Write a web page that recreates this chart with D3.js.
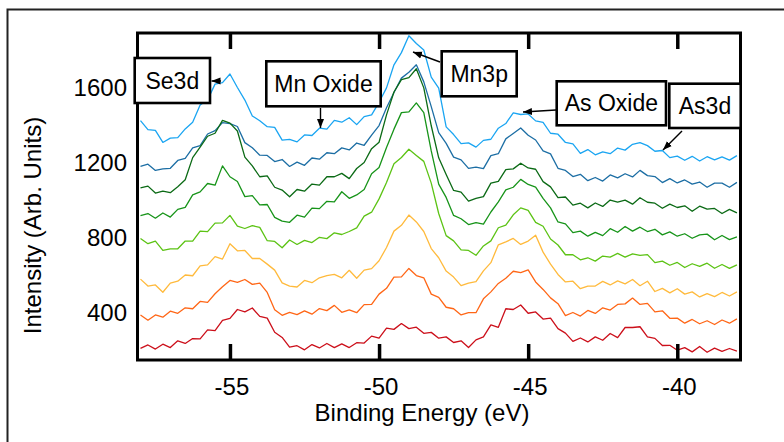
<!DOCTYPE html>
<html><head><meta charset="utf-8">
<script src="https://cdn.jsdelivr.net/npm/d3@7/dist/d3.min.js"></script>
<style>
html,body{margin:0;padding:0;background:#fff;}
svg{display:block;}
text{font-family:"Liberation Sans",Arial,Helvetica,sans-serif;fill:#000;}
</style></head><body>
<svg id="chart" width="784" height="442"></svg>
<script>
// ---- data ----
const energyStart = -58, energyStep = 0.25;
const xTickValues = [-55, -50, -45, -40];
const yTickValues = [400, 800, 1200, 1600];
const xTitle = "Binding Energy (eV)";
const yTitle = "Intensity (Arb. Units)";
const annotationTexts = ["Se3d", "Mn Oxide", "Mn3p", "As Oxide", "As3d"];
const seriesColors = ["#1aa5f2", "#1c6ea4", "#0b6a15", "#179419", "#5cc314", "#ffba3c", "#ff6616", "#cc0f1a"];

const spectrum1 = [1423,1375,1371,1307,1330,1333,1379,1415,1507,1534,
 1618,1626,1672,1600,1533,1448,1423,1391,1387,1319,
 1323,1310,1347,1344,1383,1378,1425,1415,1439,1402,
 1445,1454,1521,1598,1721,1786,1876,1835,1800,1655,
 1597,1390,1349,1301,1305,1282,1318,1324,1383,1408,
 1465,1456,1459,1422,1414,1356,1351,1307,1299,1249,
 1269,1241,1257,1247,1277,1266,1297,1306,1290,1260,
 1264,1226,1234,1212,1233,1208,1231,1214,1230,1213,
 1237];
const spectrum2 = [1180,1191,1158,1166,1169,1211,1222,1278,1290,1352,
 1370,1413,1407,1392,1306,1279,1239,1238,1205,1216,
 1179,1202,1185,1224,1218,1252,1247,1278,1267,1304,
 1292,1346,1397,1492,1573,1650,1681,1721,1630,1498,
 1359,1302,1229,1214,1169,1175,1167,1237,1247,1326,
 1355,1384,1345,1320,1262,1246,1169,1158,1125,1137,
 1103,1120,1101,1134,1118,1140,1123,1158,1130,1125,
 1093,1114,1091,1107,1085,1096,1068,1090,1090,1068,
 1094];
const spectrum3 = [1065,1074,1037,1047,1039,1071,1108,1226,1282,1340,
 1356,1425,1410,1368,1229,1182,1124,1129,1068,1053,
 1017,1056,1047,1085,1079,1124,1124,1142,1114,1168,
 1200,1274,1308,1454,1576,1642,1653,1700,1598,1396,
 1225,1136,1051,1042,994,1009,1018,1090,1099,1162,
 1166,1196,1171,1164,1098,1070,1013,1016,973,983,
 958,984,966,1000,989,999,978,1012,988,983,
 956,978,960,969,940,967,951,955,928,950,
 931];
const spectrum4 = [917,928,903,931,909,950,961,1027,1043,1088,
 1079,1182,1124,1099,1018,1023,974,976,907,887,
 881,919,909,957,954,993,990,1044,1009,1027,
 1056,1140,1173,1280,1378,1466,1470,1518,1466,1262,
 1085,1014,918,900,869,879,871,936,990,1054,
 1068,1110,1083,1069,1009,958,883,873,826,834,
 807,827,810,847,828,859,834,855,832,844,
 814,830,807,820,796,814,818,788,811,789,
 803];
const spectrum5 = [795,767,781,731,739,740,781,781,834,831,
 877,878,918,861,848,863,854,783,779,745,
 787,763,785,773,801,794,825,816,832,851,
 914,935,1006,1093,1193,1227,1271,1238,1206,1090,
 928,810,782,734,731,705,755,782,852,866,
 921,958,945,881,860,792,760,708,708,681,
 692,674,701,695,715,695,713,705,709,666,
 674,652,667,640,660,646,663,636,656,635,
 654];
const spectrum6 = [578,541,547,508,557,567,600,596,649,654,
 698,685,767,729,731,688,688,658,626,558,
 541,536,571,559,585,597,603,585,625,583,
 626,634,676,747,834,865,920,883,832,741,
 692,621,589,543,557,565,622,666,761,777,
 795,763,781,812,722,658,603,563,567,527,
 541,541,566,547,569,553,576,543,567,512,
 529,505,527,498,510,483,501,485,507,488,
 510];
const spectrum7 = [387,359,387,375,407,396,425,420,459,454,
 500,537,571,561,576,550,557,507,415,385,
 401,389,409,391,421,410,438,401,414,399,
 442,443,498,529,589,590,635,597,585,498,
 481,428,420,387,399,399,473,510,555,583,
 620,613,627,563,523,478,447,383,400,381,
 411,395,425,413,443,446,477,443,449,403,
 409,369,370,343,363,340,356,336,360,343,
 366];
const spectrum8 = [209,227,205,231,213,249,235,261,259,307,
 303,358,369,416,403,424,379,370,295,267,
 215,223,201,229,211,235,213,233,213,239,
 237,274,263,317,310,341,314,322,289,294,
 263,270,240,249,213,254,270,334,321,420,
 416,440,396,403,365,370,314,290,246,264,
 243,270,252,288,266,320,320,324,270,262,
 224,225,199,213,190,219,188,210,193,208,
 194];
const spectra = [spectrum1, spectrum2, spectrum3, spectrum4, spectrum5, spectrum6, spectrum7, spectrum8];

// ---- layout ----
const svg = d3.select("#chart");
const plot = {left: 137.5, right: 740.5, top: 33, bottom: 360};
const x = d3.scaleLinear().domain([-58.1, -37.88]).range([plot.left, plot.right]);
const y = d3.scaleLinear().domain([146.7, 1890.7]).range([plot.bottom, plot.top]);
const energies = d3.range(spectrum1.length).map(i => energyStart + i * energyStep);

// outer frame
svg.append("path").attr("d", "M7.5,442V9.5H784").attr("fill", "none")
  .attr("stroke", "#222").attr("stroke-width", 2);

// curves
const line = d3.line().x((d, i) => x(energies[i])).y(d => y(d));
spectra.forEach((s, k) => {
  svg.append("path").datum(s).attr("d", line).attr("fill", "none")
    .attr("stroke", seriesColors[k]).attr("stroke-width", 1.3)
    .attr("stroke-linejoin", "round");
});

// axes ticks
const styleTicks = g => {
  g.select(".domain").remove();
  g.selectAll(".tick line").attr("stroke", "#000").attr("stroke-width", 3.5);
  g.selectAll(".tick text").remove();
};
svg.append("g").attr("transform", `translate(0,${plot.bottom})`)
  .call(d3.axisBottom(x).tickValues(xTickValues).tickSize(-16).tickFormat(""))
  .call(styleTicks);
svg.append("g").attr("transform", `translate(0,${plot.top})`)
  .call(d3.axisTop(x).tickValues(xTickValues).tickSize(-16).tickFormat(""))
  .call(styleTicks);

// plot frame
svg.append("rect").attr("x", plot.left).attr("y", plot.top)
  .attr("width", plot.right - plot.left).attr("height", plot.bottom - plot.top)
  .attr("fill", "none").attr("stroke", "#000").attr("stroke-width", 3);

// tick labels
xTickValues.forEach(v => {
  svg.append("text").attr("x", x(v) + 2).attr("y", 395)
    .attr("text-anchor", "middle").attr("font-size", 24).text(String(v));
});
yTickValues.forEach(v => {
  svg.append("text").attr("x", 127).attr("y", y(v) + 8)
    .attr("text-anchor", "end").attr("font-size", 24).text(String(v));
});

// titles
svg.append("text").attr("x", 422).attr("y", 421).attr("text-anchor", "middle")
  .attr("font-size", 24).text(xTitle);
svg.append("text").attr("transform", "translate(41,225.5) rotate(-90)")
  .attr("text-anchor", "middle").attr("font-size", 24).text(yTitle);

// annotation boxes
const boxes = [
  {x: 134.7, y: 58, w: 75.3, h: 45},
  {x: 266.3, y: 61.3, w: 114.4, h: 45},
  {x: 441.7, y: 51.3, w: 75, h: 45},
  {x: 556.7, y: 81.3, w: 109.3, h: 44},
  {x: 669.3, y: 83.7, w: 71.4, h: 44.3}
];
boxes.forEach((b, i) => {
  svg.append("rect").attr("x", b.x).attr("y", b.y).attr("width", b.w).attr("height", b.h)
    .attr("fill", "#fff").attr("stroke", "#000").attr("stroke-width", 2.6);
  svg.append("text").attr("x", b.x + b.w / 2).attr("y", b.y + b.h / 2 + 8)
    .attr("text-anchor", "middle").attr("font-size", 23).text(annotationTexts[i]);
});

// arrows
svg.append("defs").append("marker").attr("id", "ah")
  .attr("markerUnits", "userSpaceOnUse").attr("viewBox", "0 -4 9 8")
  .attr("refX", 9).attr("refY", 0).attr("markerWidth", 9).attr("markerHeight", 8)
  .attr("orient", "auto")
  .append("path").attr("d", "M0,-3.5L9,0L0,3.5Z").attr("fill", "#000");
const arrows = [
  [221, 81, 211.5, 81],
  [320.5, 108, 320.5, 128],
  [440, 62, 413, 52],
  [556, 110, 523, 112],
  [682, 131, 663, 150]
];
arrows.forEach(a => {
  svg.append("line").attr("x1", a[0]).attr("y1", a[1]).attr("x2", a[2]).attr("y2", a[3])
    .attr("stroke", "#000").attr("stroke-width", 1.4).attr("marker-end", "url(#ah)");
});
</script>
</body></html>
